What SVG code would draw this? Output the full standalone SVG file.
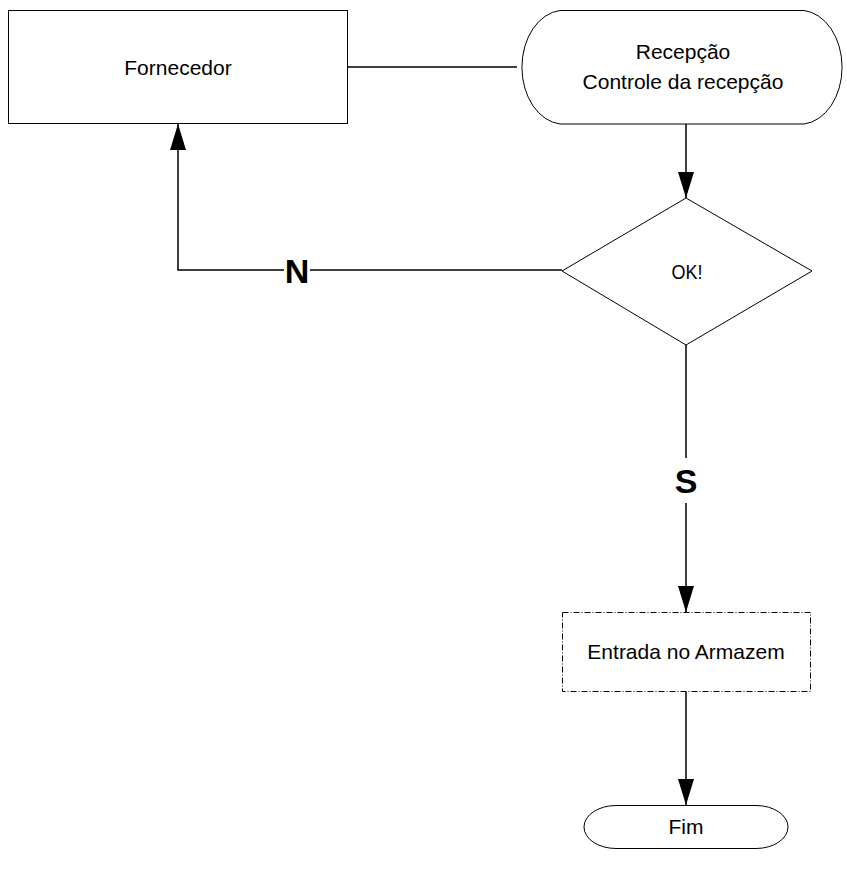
<svg xmlns="http://www.w3.org/2000/svg" width="847" height="873" viewBox="0 0 847 873">
<style>
.shape{fill:#fff;stroke:#000;stroke-width:1}
.conn{fill:none;stroke:#000;stroke-width:1.5}
.t{font-family:"Liberation Sans",Arial,sans-serif;font-size:21px;fill:#000;text-anchor:middle}
.lbl{font-family:"Liberation Sans",Arial,sans-serif;font-size:34px;font-weight:bold;fill:#000;text-anchor:middle}
</style>
<defs>
<marker id="ah" markerWidth="26" markerHeight="16" refX="26" refY="8" viewBox="0 0 26 16" markerUnits="userSpaceOnUse" orient="auto">
<path d="M0,0 L26,8 L0,16 Z" fill="#000"/>
</marker>
</defs>
<rect width="847" height="873" fill="#fff"/>
<g id="connectors">
<line class="conn" x1="348" y1="67" x2="517" y2="67"/>
<line class="conn" x1="686" y1="124" x2="686" y2="198" marker-end="url(#ah)"/>
<polyline class="conn" points="562,270 310,270"/>
<polyline class="conn" points="284,270 178,270 178,124" marker-end="url(#ah)"/>
<line class="conn" x1="686" y1="345" x2="686" y2="458"/>
<line class="conn" x1="686" y1="503" x2="686" y2="612" marker-end="url(#ah)"/>
<line class="conn" x1="686" y1="692" x2="686" y2="805" marker-end="url(#ah)"/>
<text class="lbl" x="297" y="283">N</text>
<text class="lbl" x="686" y="493">S</text>
</g>
<g id="fornecedor">
<rect class="shape" x="8.5" y="10.5" width="339" height="113"/>
<text class="t" x="178" y="75">Fornecedor</text>
</g>
<g id="recepcao">
<path class="shape" d="M560,10.5 L804,10.5 A42,57 0 0 1 804,124 L560,124 A42,57 0 0 1 560,10.5 Z"/>
<text class="t" x="683" y="59">Recepção</text>
<text class="t" x="683" y="89">Controle da recepção</text>
</g>
<g id="ok">
<polygon class="shape" points="686,198 812,271 686,345 562,271"/>
<text class="t" x="687" y="279" font-size="20" textLength="31" lengthAdjust="spacingAndGlyphs">OK!</text>
</g>
<g id="entrada">
<rect class="shape" x="562.5" y="612.5" width="248" height="79" stroke-dasharray="6,2,1,2"/>
<text class="t" x="686" y="659" font-size="21.5">Entrada no Armazem</text>
</g>
<g id="fim">
<path class="shape" d="M616,805.5 L756,805.5 A32,21.5 0 0 1 756,848.5 L616,848.5 A32,21.5 0 0 1 616,805.5 Z"/>
<text class="t" x="686" y="834">Fim</text>
</g>
</svg>
